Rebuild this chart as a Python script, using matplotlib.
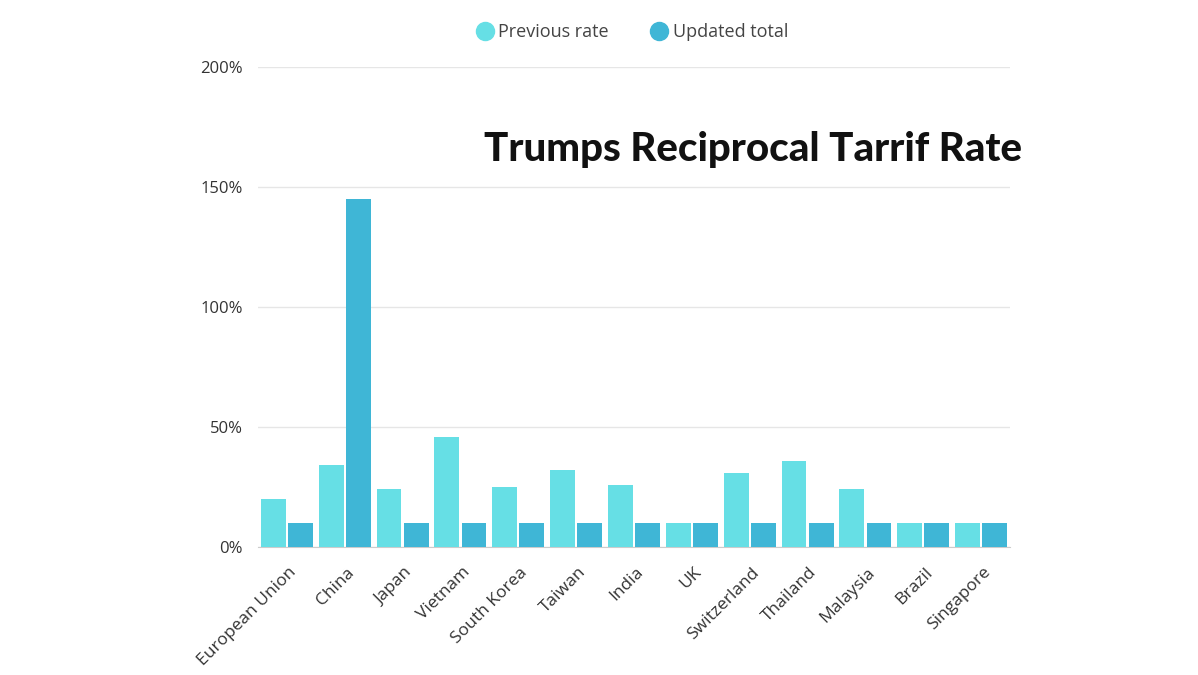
import matplotlib
matplotlib.use("Agg")
import matplotlib.pyplot as plt
import matplotlib.transforms as mtransforms
import numpy as np
from matplotlib.lines import Line2D

countries = ["European Union", "China", "Japan", "Vietnam", "South Korea", "Taiwan",
             "India", "UK", "Switzerland", "Thailand", "Malaysia", "Brazil", "Singapore"]
previous_rate = [20, 34, 24, 46, 25, 32, 26, 10, 31, 36, 24, 10, 10]
updated_total = [10, 145, 10, 10, 10, 10, 10, 10, 10, 10, 10, 10, 10]
y_ticks = [0, 50, 100, 150, 200]
y_tick_labels = ["0%", "50%", "100%", "150%", "200%"]

c_prev = "#66dfe5"
c_upd = "#3fb6d6"

fig = plt.figure(figsize=(11.98, 6.75), dpi=100)
ax = fig.add_axes([258/1198, 1-547/675, (1010-258)/1198, (547-67)/675])

x = np.arange(len(countries))
w = 0.43
gap = 0.04
ax.bar(x - (w+gap)/2, previous_rate, width=w, color=c_prev, zorder=3)
ax.bar(x + (w+gap)/2, updated_total, width=w, color=c_upd, zorder=3)

ax.set_xlim(-0.5, len(countries)-0.5)
ax.set_ylim(0, 200)
ax.set_yticks(y_ticks)
ax.set_yticklabels(y_tick_labels, fontsize=12, color="#333333", family="Open Sans")
ax.yaxis.grid(True, color="#e6e6e6", linewidth=1, zorder=0)
ax.tick_params(axis="y", length=0, pad=11)
ax.tick_params(axis="x", length=0, pad=0)
ax.set_xticks(x)
ax.set_xticklabels(countries, rotation=45, ha="right", va="center", rotation_mode="anchor",
                   fontsize=12.5, color="#333333", family="Open Sans")
offset = mtransforms.ScaledTranslation(7/100, -23/100, fig.dpi_scale_trans)
for lbl in ax.get_xticklabels():
    lbl.set_transform(lbl.get_transform() + offset)
for s in ["top", "right", "left"]:
    ax.spines[s].set_visible(False)
ax.spines["bottom"].set_color("#cccccc")
ax.set_axisbelow(True)

fig.text(1022/1198, 1-149/675, "Trumps Reciprocal Tarrif Rate", ha="right", va="center",
         fontsize=29, fontweight="black", family="Lato", color="#111111")

handles = [Line2D([], [], marker="o", linestyle="", markersize=13, color=c_prev),
           Line2D([], [], marker="o", linestyle="", markersize=13, color=c_upd)]
fig.legend(handles, ["Previous rate", "Updated total"], loc="center",
           bbox_to_anchor=(632/1198, 1-32/675), ncol=2, frameon=False,
           prop={"family": "Open Sans", "size": 13}, labelcolor="#444444",
           handletextpad=0.25, columnspacing=2.3, handlelength=1.0)

fig.savefig("out.png", dpi=100)
